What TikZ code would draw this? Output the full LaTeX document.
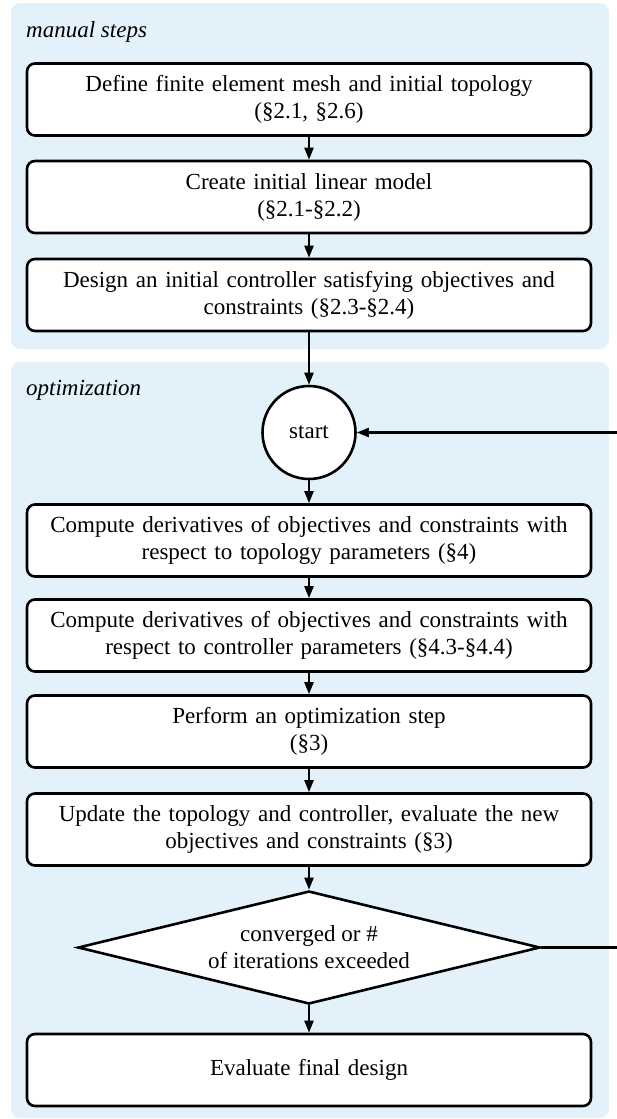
\documentclass[tikz,border=0pt]{standalone}
\usepackage{fontspec}
\setmainfont{Liberation Serif}
\usetikzlibrary{positioning,shapes.geometric,arrows.meta}
\definecolor{panelblue}{HTML}{E3F2FA}

\begin{document}
\begin{tikzpicture}[
    x=1pt, y=-1pt,
    font=\fontsize{23}{27}\selectfont,
    stepbox/.style={rectangle, draw, line width=2.6pt, rounded corners=8pt, fill=white, minimum width=564pt, minimum height=72pt, text width=556pt, align=center, inner sep=0pt},
    startnode/.style={circle, draw, line width=2.6pt, fill=white, minimum size=93pt, inner sep=0pt},
    decision/.style={diamond, draw, line width=2.6pt, fill=white, aspect=4, minimum width=462pt, minimum height=113pt, inner sep=0pt, align=center},
    panel/.style={fill=panelblue, rounded corners=9pt},
    flow/.style={draw, line width=2.2pt, -{Triangle[length=12pt,width=9pt]}},
    tag/.style={font=\fontsize{23}{27}\selectfont\itshape, anchor=west, inner sep=0pt}
]

\useasboundingbox (0,0) rectangle (617,1119);

% Background panels
\fill[panel] (11,3) rectangle (609,349);
\fill[panel] (11,362) rectangle (609,1118);

\node[tag] (manuallbl) at (26,32) {manual steps};
\node[tag] (optlbl) at (26,390) {optimization};

% Define node positions
\node[stepbox] (mesh) at (309,99.5) {Define finite element mesh and initial topology\\(\S2.1, \S2.6)};
\node[stepbox] (linmod) at (309,197) {Create initial linear model\\(\S2.1-\S2.2)};
\node[stepbox] (ctrl) at (309,295) {Design an initial controller satisfying objectives and\\constraints (\S2.3-\S2.4)};
\node[startnode] (start) at (309,432.5) {start};
\node[stepbox] (topo) at (309,540.5) {Compute derivatives of objectives and constraints with\\respect to topology parameters (\S4)};
\node[stepbox] (ctrlder) at (309,635.5) {Compute derivatives of objectives and constraints with\\respect to controller parameters (\S4.3-\S4.4)};
\node[stepbox] (optstep) at (309,731.5) {Perform an optimization step\\(\S3)};
\node[stepbox] (update) at (309,829.5) {Update the topology and controller, evaluate the new\\objectives and constraints (\S3)};
\node[decision] (conv) at (309,947.5) {converged or \#\\of iterations exceeded};
\node[stepbox] (final) at (309,1070) {Evaluate final design};

\coordinate (loopright) at (621,947.5);

% Draw the flow
\draw[flow] (mesh.south) -- (linmod.north);
\draw[flow] (linmod.south) -- (ctrl.north);
\draw[flow] (ctrl.south) -- (start.north);
\draw[flow] (start.south) -- (topo.north);
\draw[flow] (topo.south) -- (ctrlder.north);
\draw[flow] (ctrlder.south) -- (optstep.north);
\draw[flow] (optstep.south) -- (update.north);
\draw[flow] (update.south) -- (conv.north);
\draw[flow] (conv.south) -- (final.north);

% Loop back to start
\draw[flow] (conv.east) -- (loopright) |- (start.east);

\end{tikzpicture}
\end{document}
